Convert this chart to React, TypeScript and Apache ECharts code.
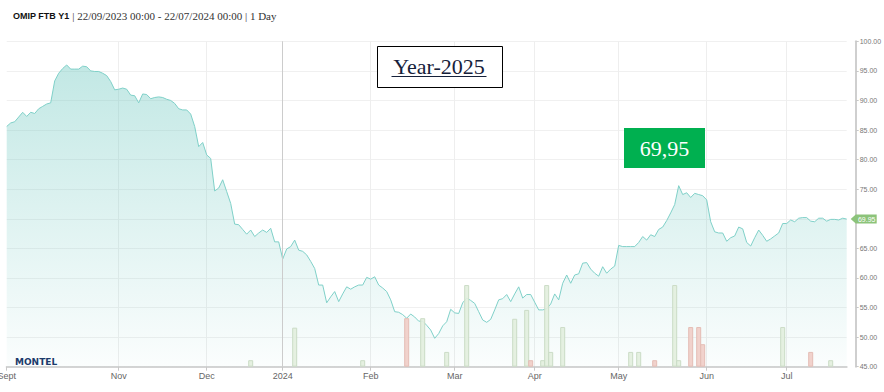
import React, { useEffect, useRef } from "react";
import * as echarts from "echarts";

// ---- data ----
const START_DATE = "2023-09-22";
const END_DATE = "2024-07-22";
const holidays = ["2023-12-25", "2023-12-26", "2024-01-01", "2024-03-29", "2024-04-01", "2024-05-01"];

function tradingDays(): string[] {
  const out: string[] = [];
  const d = new Date(START_DATE + "T00:00:00Z");
  const end = new Date(END_DATE + "T00:00:00Z");
  while (d <= end) {
    const wd = d.getUTCDay();
    const s = d.toISOString().slice(0, 10);
    if (wd !== 0 && wd !== 6 && holidays.indexOf(s) < 0) out.push(s);
    d.setUTCDate(d.getUTCDate() + 1);
  }
  return out;
}
const dates = tradingDays();

const prices = [
  85.6, 86.2, 86.4, 87.2, 88.0, 87.3, 88.0, 87.8, 88.6, 89.0,
  89.4, 89.6, 93.3, 94.6, 95.4, 96.0, 95.3, 95.3, 95.3, 95.8,
  95.7, 95.0, 94.9, 94.9, 94.6, 94.2, 93.2, 91.8, 91.9, 92.1,
  91.9, 90.9, 90.8, 89.6, 91.1, 91.0, 90.3, 90.5, 90.6, 90.5,
  90.2, 90.0, 89.5, 88.6, 88.4, 88.4, 87.7, 85.6, 82.2, 82.9,
  80.8, 80.2, 74.7, 75.2, 76.6, 74.6, 72.6, 69.1, 69.0, 68.2,
  67.4, 68.1, 67.0, 67.6, 68.1, 67.7, 68.4, 66.1, 66.1, 63.2,
  64.9, 65.3, 66.4, 64.7, 64.5, 63.9, 62.8, 61.6, 58.8, 58.8,
  55.8, 56.8, 57.7, 56.0, 57.3, 58.5, 58.1, 58.5, 58.8, 58.8,
  60.1, 59.8, 60.2, 58.8, 58.3, 57.7, 56.3, 54.3, 54.2, 53.8,
  53.2, 53.9, 53.4, 52.7, 52.7, 52.0, 51.2, 49.8, 50.6, 51.9,
  52.6, 54.7, 54.1, 54.0, 55.8, 56.6, 56.2, 55.7, 54.3, 52.9,
  52.5, 53.0, 54.6, 56.3, 56.5, 57.2, 56.0, 57.3, 58.5, 56.6,
  57.2, 57.2, 55.9, 54.6, 54.6, 54.8, 55.6, 57.3, 56.3, 59.1,
  60.5, 59.1, 60.5, 60.7, 62.5, 62.6, 61.5, 60.8, 60.3, 61.9,
  60.8, 61.5, 62.0, 65.5, 65.3, 65.3, 65.3, 65.3, 66.0, 67.0,
  66.4, 67.3, 67.0, 68.2, 68.6, 69.7, 71.0, 72.4, 75.6, 74.1,
  74.4, 73.6, 74.3, 74.1, 73.9, 73.2, 69.5, 67.8, 67.6, 67.6,
  66.2, 66.8, 67.1, 68.6, 68.3, 66.0, 65.4, 66.8, 68.1, 67.2,
  66.2, 66.6, 67.1, 67.6, 69.2, 69.2, 69.8, 69.5, 70.1, 70.2,
  70.2, 69.6, 69.5, 70.1, 70.1, 69.6, 69.9, 69.9, 69.8, 70.1,
  69.95,
];

// volume bars: [trading-day index, volume]
const upVolumes: [number, number][] = [
  [61, 1.1], [72, 6.6], [89, 1.1], [104, 8.2], [110, 2.5], [115, 13.8],
  [127, 8.1], [130, 9.6], [134, 1.1], [135, 13.8], [136, 2.5], [139, 6.7],
  [156, 2.5], [158, 2.5], [167, 13.8], [168, 1.1], [194, 6.7], [206, 1.1],
];
const downVolumes: [number, number][] = [
  [100, 8.2], [131, 1.1], [162, 1.1], [171, 6.7], [173, 6.7], [174, 3.8], [201, 2.5],
];

const tickDates = ["2023-09-22", "2023-11-01", "2023-12-01", "2024-01-02", "2024-02-01", "2024-03-01", "2024-04-02", "2024-05-02", "2024-06-03", "2024-07-01"];
const tickLabels = ["Sept", "Nov", "Dec", "2024", "Feb", "Mar", "Apr", "May", "Jun", "Jul"];
const yearStartDate = "2024-01-02";

const lastPrice = 69.95;
const headerTitle = "OMIP FTB Y1";
const headerRange = " | 22/09/2023 00:00 - 22/07/2024 00:00 | 1 Day";
const boxTitle = "Year-2025";
const boxPrice = "69,95";

export default function App() {
  const ref = useRef<HTMLDivElement>(null);

  useEffect(() => {
    if (!ref.current) return;
    const chart = echarts.init(ref.current, undefined, { renderer: "svg" });
    const isTick = (_i: number, v: string) => tickDates.indexOf(v) >= 0;
    const isSplit = (_i: number, v: string) => tickDates.indexOf(v) > 0;

    chart.setOption({
      animation: false,
      backgroundColor: "#ffffff",
      grid: { left: 6.7, right: 37.3, top: 41.3, bottom: 25.3, containLabel: false, outerBoundsMode: "none" },
      xAxis: {
        type: "category",
        data: dates,
        boundaryGap: false,
        axisLine: { show: true, lineStyle: { color: "#d4d4d4", width: 2 } },
        axisTick: { show: true, interval: isTick, length: 4, lineStyle: { color: "#c8c8c8" } },
        axisLabel: {
          interval: isTick,
          formatter: (v: string) => tickLabels[tickDates.indexOf(v)] || "",
          fontSize: 9,
          color: "#666",
          margin: 5,
          fontFamily: "Liberation Sans, Arial, sans-serif",
        },
        splitLine: { show: true, interval: isSplit, lineStyle: { color: "#eeeeee", width: 1 } },
      },
      yAxis: [
        {
          type: "value",
          position: "right",
          min: 45,
          max: 100,
          interval: 5,
          offset: 9,
          axisLine: { show: true, lineStyle: { color: "#cfcfcf", width: 2 } },
          axisTick: { show: true, length: 3, lineStyle: { color: "#c8c8c8" } },
          axisLabel: {
            formatter: (v: number) => (Math.abs(v - 70) < 0.001 ? "" : v.toFixed(2)),
            fontSize: 7,
            color: "#777",
            margin: 4,
            fontFamily: "Liberation Sans, Arial, sans-serif",
          },
          splitLine: { show: true, lineStyle: { color: "#f0f0f0", width: 1 } },
        },
        { type: "value", min: 0, max: 55, show: false, splitLine: { show: false } },
      ],
      series: [
        {
          type: "line",
          data: prices,
          showSymbol: false,
          symbol: "none",
          lineStyle: { color: "#7fd0c8", width: 1 },
          areaStyle: {
            color: new echarts.graphic.LinearGradient(0, 0, 0, 1, [
              { offset: 0, color: "rgba(110,200,192,0.6)" },
              { offset: 1, color: "rgba(110,200,192,0.04)" },
            ]),
          },
          z: 2,
          markLine: {
            silent: true,
            symbol: ["none", "none"],
            label: { show: false },
            lineStyle: { color: "#cccccc", width: 1, type: "solid" },
            data: [{ xAxis: yearStartDate }],
          },
        },
        {
          type: "bar",
          yAxisIndex: 1,
          data: upVolumes,
          barWidth: 5,
          barGap: "-100%",
          itemStyle: { color: "rgba(226,238,222,0.9)", borderColor: "#cbdcc6", borderWidth: 1 },
          z: 3,
        },
        {
          type: "bar",
          yAxisIndex: 1,
          data: downVolumes,
          barWidth: 5,
          barGap: "-100%",
          itemStyle: { color: "rgba(240,208,201,0.95)", borderColor: "#e4bdb5", borderWidth: 1 },
          z: 3,
        },
      ],
    });

    const [px, py] = chart.convertToPixel({ xAxisIndex: 0, yAxisIndex: 0 }, [dates[dates.length - 1], lastPrice]) as number[];
    const tagLeft = px + 4;
    chart.setOption({
      graphic: [
        {
          type: "text",
          left: 13,
          top: 10,
          style: {
            text: "{b|" + headerTitle + "}{r|" + headerRange + "}",
            rich: {
              b: { fontFamily: "Liberation Sans, Arial, sans-serif", fontWeight: "bold", fontSize: 9, fill: "#111" },
              r: { fontFamily: "Liberation Serif, Georgia, serif", fontSize: 11, fill: "#333" },
            },
          },
        },
        {
          type: "rect",
          shape: { x: 377.5, y: 46.5, width: 125, height: 41 },
          style: { fill: "#ffffff", stroke: "#000000", lineWidth: 1 },
          z: 10,
        },
        {
          type: "text",
          x: 439,
          y: 66,
          style: {
            text: boxTitle,
            fontFamily: "Liberation Serif, serif",
            fontSize: 22,
            fill: "#16213a",
            align: "center",
            verticalAlign: "middle",
          },
          z: 11,
        },
        {
          type: "line",
          shape: { x1: 391.5, y1: 76.5, x2: 486.5, y2: 76.5 },
          style: { stroke: "#16213a", lineWidth: 1 },
          z: 11,
        },
        {
          type: "rect",
          shape: { x: 624, y: 128, width: 81, height: 40 },
          style: { fill: "#00b050" },
          z: 10,
        },
        {
          type: "text",
          x: 664.5,
          y: 148,
          style: {
            text: boxPrice,
            fontFamily: "Liberation Serif, serif",
            fontSize: 22,
            fill: "#ffffff",
            align: "center",
            verticalAlign: "middle",
          },
          z: 11,
        },
        {
          type: "text",
          left: 15,
          top: 357,
          style: {
            text: "MONTEL",
            fontFamily: "DejaVu Sans, sans-serif",
            fontWeight: "bold",
            fontSize: 9,
            fill: "#1c3b6b",
          },
          z: 10,
        },
        {
          type: "polygon",
          shape: {
            points: [
              [tagLeft, py],
              [tagLeft + 5, py - 4.5],
              [tagLeft + 26, py - 4.5],
              [tagLeft + 26, py + 4.5],
              [tagLeft + 5, py + 4.5],
            ],
          },
          style: { fill: "#8cc37a" },
          z: 20,
        },
        {
          type: "text",
          x: tagLeft + 16,
          y: py,
          style: {
            text: lastPrice.toFixed(2),
            fontFamily: "Liberation Sans, Arial, sans-serif",
            fontSize: 7,
            fill: "#ffffff",
            align: "center",
            verticalAlign: "middle",
          },
          z: 21,
        },
      ],
    });

    return () => chart.dispose();
  }, []);

  return (
    <div
      ref={ref}
      style={{ position: "fixed", left: 0, top: 0, width: 884, height: 392, background: "#fff" }}
    />
  );
}
